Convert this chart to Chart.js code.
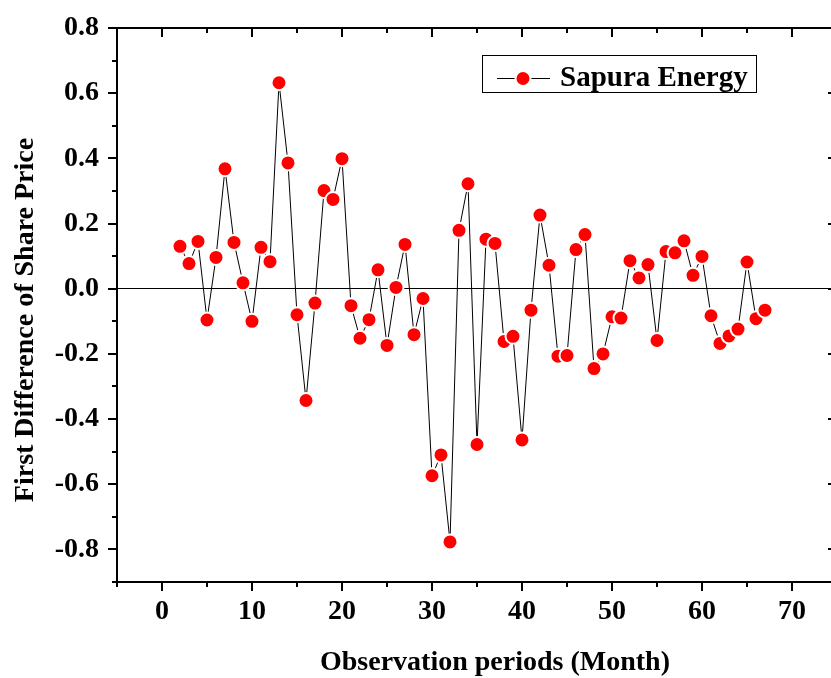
<!DOCTYPE html>
<html lang="en">
<head>
    <meta charset="UTF-8">
    <title>Sapura Energy - First Difference of Share Price</title>
    <script src="https://cdn.jsdelivr.net/npm/chart.js@4.4.0/dist/chart.umd.min.js"></script>
    <style>
        html, body { margin: 0; padding: 0; background: #fff; overflow: hidden; }
        #wrap { width: 840px; height: 678px; }
    </style>
</head>
<body>
    <div id="wrap"><canvas id="diff-chart" width="840" height="678"></canvas></div>

    <script>
        // Data
        const months = [2, 3, 4, 5, 6, 7, 8, 9, 10, 11, 12, 13, 14, 15, 16, 17, 18, 19, 20, 21,
                        22, 23, 24, 25, 26, 27, 28, 29, 30, 31, 32, 33, 34, 35, 36, 37, 38, 39, 40, 41,
                        42, 43, 44, 45, 46, 47, 48, 49, 50, 51, 52, 53, 54, 55, 56, 57, 58, 59, 60, 61,
                        62, 63, 64, 65, 66, 67];
        const diffs = [0.130, 0.077, 0.145, -0.096, 0.096, 0.368, 0.142, 0.018, -0.100, 0.127,
                       0.083, 0.632, 0.386, -0.080, -0.343, -0.044, 0.301, 0.274, 0.399, -0.052,
                       -0.152, -0.095, 0.058, -0.174, 0.004, 0.136, -0.141, -0.030, -0.574, -0.510,
                       -0.777, 0.179, 0.322, -0.478, 0.152, 0.139, -0.162, -0.146, -0.464, -0.066,
                       0.226, 0.072, -0.207, -0.205, 0.120, 0.166, -0.245, -0.200, -0.086, -0.090,
                       0.086, 0.033, 0.074, -0.159, 0.114, 0.110, 0.147, 0.041, 0.099, -0.083,
                       -0.168, -0.145, -0.124, 0.082, -0.092, -0.066];
        const xTicks = [0, 10, 20, 30, 40, 50, 60, 70];
        const yTicks = [-0.8, -0.6, -0.4, -0.2, 0, 0.2, 0.4, 0.6, 0.8];
        const seriesName = 'Sapura Energy';
        const xTitle = 'Observation periods (Month)';
        const yTitle = 'First Difference of Share Price';

        const FONT = '"Liberation Serif", "Times New Roman", serif';

        // frame, major/minor ticks on all four sides
        const frameTicks = {
            id: 'frameTicks',
            afterDraw(chart) {
                const { ctx, chartArea: a, scales: { x, y } } = chart;
                ctx.save();
                ctx.strokeStyle = '#000';
                ctx.lineWidth = 2;
                ctx.strokeRect(a.left, a.top, a.right - a.left, a.bottom - a.top);

                const seg = (x1, y1, x2, y2) => {
                    ctx.beginPath(); ctx.moveTo(x1, y1); ctx.lineTo(x2, y2); ctx.stroke();
                };
                const xStep = xTicks[1] - xTicks[0];
                const yStep = yTicks[1] - yTicks[0];
                const xAll = [];
                xTicks.forEach(v => xAll.push([v - xStep / 2, 5], [v, 9]));
                xAll.push([xTicks[xTicks.length - 1] + xStep / 2, 5]);
                xAll.forEach(([v, len]) => {
                    const p = Math.round(x.getPixelForValue(v));
                    if (p < a.left - 1 || p > a.right + 1) return;
                    seg(p, a.bottom, p, a.bottom + len);   // out
                    seg(p, a.top, p, a.top + len);         // in
                });
                const yAll = [];
                yTicks.forEach(v => yAll.push([v - yStep / 2, 5], [v, 9]));
                yAll.push([yTicks[yTicks.length - 1] + yStep / 2, 5]);
                yAll.forEach(([v, len]) => {
                    const p = Math.round(y.getPixelForValue(v));
                    if (p < a.top - 1 || p > a.bottom + 1) return;
                    seg(a.left, p, a.left - len, p);       // out
                    seg(a.right, p, a.right - len, p);     // in
                });
                ctx.restore();
            }
        };

        // axis titles and boxed legend
        const labels = {
            id: 'labels',
            afterDraw(chart) {
                const { ctx } = chart;
                const ds = chart.data.datasets[0];
                ctx.save();
                ctx.fillStyle = '#000';
                ctx.font = 'bold 28px ' + FONT;
                ctx.textAlign = 'center';
                ctx.textBaseline = 'alphabetic';
                ctx.fillText(xTitle, 495, 670);

                ctx.save();
                ctx.translate(33, 320);
                ctx.rotate(-Math.PI / 2);
                ctx.fillText(yTitle, 0, 0);
                ctx.restore();

                // legend
                ctx.strokeStyle = '#000';
                ctx.lineWidth = 1;
                ctx.strokeRect(482.5, 55.5, 274, 37);
                ctx.beginPath();
                ctx.moveTo(497, 78.5); ctx.lineTo(550, 78.5);
                ctx.stroke();
                ctx.beginPath();
                ctx.arc(523, 78.5, 7.5, 0, Math.PI * 2);
                ctx.fillStyle = ds.pointBackgroundColor;
                ctx.fill();
                ctx.strokeStyle = ds.pointBorderColor;
                ctx.lineWidth = 2;
                ctx.stroke();
                ctx.fillStyle = '#000';
                ctx.font = 'bold 29px ' + FONT;
                ctx.textAlign = 'left';
                ctx.fillText(seriesName, 560, 86);
                ctx.restore();
            }
        };

        const noPad = s => { s.paddingTop = 0; s.paddingBottom = 0; s.paddingLeft = 0; s.paddingRight = 0; };

        const chart = new Chart(document.getElementById('diff-chart'), {
            type: 'line',
            data: {
                datasets: [{
                    label: seriesName,
                    data: months.map((m, i) => ({ x: m, y: diffs[i] })),
                    borderColor: '#000',
                    borderWidth: 1,
                    pointRadius: 7.5,
                    pointBackgroundColor: '#ff0000',
                    pointBorderColor: '#ffffff',
                    pointBorderWidth: 2,
                    tension: 0
                }]
            },
            options: {
                responsive: false,
                animation: false,
                layout: { autoPadding: false, padding: { left: 0, top: 28, right: 3, bottom: 0 } },
                plugins: {
                    legend: { display: false },
                    tooltip: { enabled: false }
                },
                scales: {
                    x: {
                        type: 'linear',
                        min: -5,
                        max: 75,
                        afterBuildTicks: s => { s.ticks = xTicks.map(v => ({ value: v })); },
                        afterFit: s => { s.height = 96; noPad(s); },
                        grid: { display: false, drawTicks: false },
                        border: { display: false },
                        ticks: {
                            padding: 13,
                            color: '#000',
                            font: { family: FONT, size: 28, weight: 'bold' },
                            maxRotation: 0,
                            callback: v => String(v)
                        }
                    },
                    y: {
                        min: -0.9,
                        max: 0.8,
                        afterBuildTicks: s => { s.ticks = yTicks.map(v => ({ value: v })); },
                        afterFit: s => { s.width = 117; noPad(s); },
                        grid: {
                            drawTicks: false,
                            lineWidth: 1,
                            color: c => (c.tick && c.tick.value === 0) ? '#000' : 'rgba(0,0,0,0)'
                        },
                        border: { display: false },
                        ticks: {
                            padding: 18,
                            color: '#000',
                            font: { family: FONT, size: 28, weight: 'bold' },
                            callback: v => v.toFixed(1)
                        }
                    }
                }
            },
            plugins: [frameTicks, labels]
        });
    </script>
</body>
</html>
